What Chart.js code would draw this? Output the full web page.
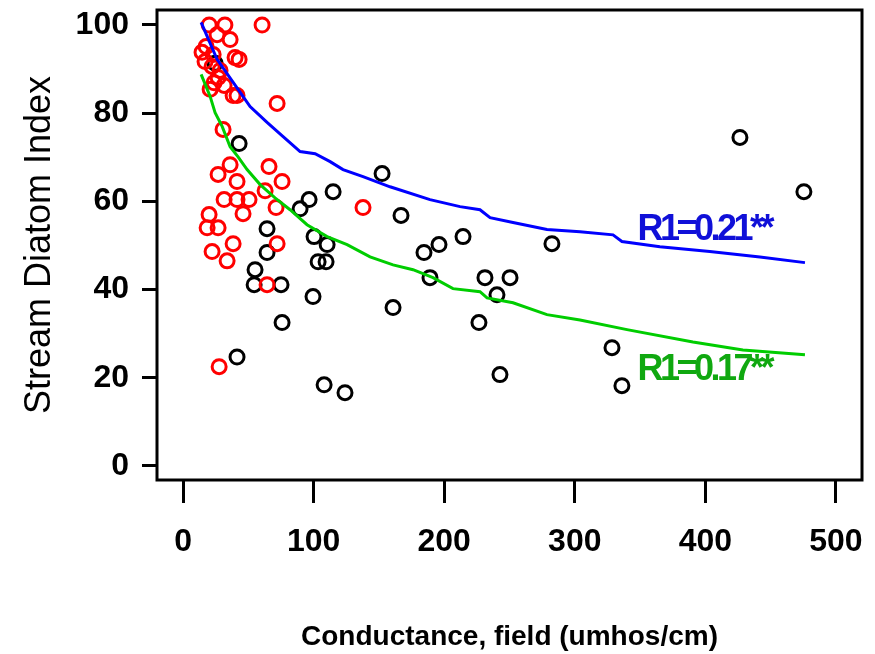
<!DOCTYPE html>
<html><head><meta charset="utf-8">
<script src="https://cdn.jsdelivr.net/npm/chart.js@4.4.1/dist/chart.umd.min.js"></script>
<style>html,body{margin:0;padding:0;background:#fff;}#wrap{width:875px;height:654px;}</style>
</head><body><div id="wrap"><canvas id="c" width="875" height="654"></canvas></div>
<script>
const xTicks = [0, 100, 200, 300, 400, 500];
const yTicks = [0, 20, 40, 60, 80, 100];

const blackX = [24.5, 42.9, 152.4, 114.9, 96.5, 89.6, 166.9, 214.4, 282.5, 196.0, 184.5, 100.3, 110.3, 103.4, 109.5, 189.1, 231.2, 250.4, 240.4, 99.5, 160.8, 226.6, 64.3, 64.3, 55.1, 54.4, 75.0, 75.8, 41.3, 108.0, 124.0, 242.7, 328.5, 336.1, 426.5, 475.5];
const blackY = [91.3, 73.1, 66.3, 62.2, 60.4, 58.3, 56.8, 52.0, 50.4, 50.2, 48.4, 52.0, 50.2, 46.3, 46.3, 42.7, 42.7, 42.7, 38.8, 38.4, 35.9, 32.5, 53.8, 48.4, 44.5, 41.1, 41.1, 32.5, 24.7, 18.4, 16.6, 20.7, 26.8, 18.2, 74.5, 62.2];

const redX = [20, 32, 60.5, 26, 36, 14.5, 39.8, 42.9, 16.8, 22.2, 26.8, 31.4, 20.7, 38.3, 41.3, 72, 30.6, 17.6, 23, 28.3, 23.7,
              36, 26.8, 41.3, 65.8, 75.8, 62.8, 31.4, 41.3, 50.5, 45.9, 71.2, 19.9, 18.4, 26.8, 38.3, 22.2, 33.7, 72, 64.3, 27.6, 137.8];
const redY = [100, 100, 100, 97.8, 96.7, 93.8, 92.6, 92.2, 91.7, 90.6, 88.1, 86.3, 85.4, 84.0, 84.0, 82.2, 76.3, 95.1, 93.3, 89.7, 86.9,
              68.3, 66.1, 64.5, 67.9, 64.5, 62.4, 60.4, 60.4, 60.4, 57.2, 58.6, 57.0, 54.0, 54.0, 50.4, 48.6, 46.5, 50.4, 41.1, 22.5, 58.6];

const blueFitX = [13.8, 26.0, 42.1, 51.3, 64.3, 76.6, 89.6, 101.1, 112.6, 122.5, 137.8, 158.5, 189.1, 212.1, 227.4, 235.1, 252.7, 278.7, 304.0, 329.3, 336.1, 365.2, 403.4, 441.8, 476.3];
const blueFitY = [100.6, 92.2, 85.4, 81.5, 77.9, 74.7, 71.3, 70.8, 69.0, 67.2, 65.6, 63.3, 60.4, 58.8, 58.1, 56.3, 55.2, 53.6, 53.1, 52.4, 50.9, 49.7, 48.6, 47.4, 46.1];

const greenFitX = [13.8, 20.7, 24.5, 29.9, 36.0, 42.1, 49.0, 59.0, 70.4, 81.9, 94.9, 110.3, 125.6, 143.2, 160.8, 176.1, 191.4, 206.7, 227.4, 232.8, 252.7, 278.7, 304.0, 340.0, 390.5, 428.8, 476.3];
const greenFitY = [88.8, 83.8, 80.1, 77.0, 72.4, 70.1, 67.2, 63.8, 60.8, 58.1, 54.7, 52.0, 50.2, 47.4, 45.6, 44.5, 42.7, 40.2, 39.5, 38.1, 37.0, 34.3, 33.1, 30.9, 28.1, 26.3, 25.2];

const fitLabels = ["R1=0.21**", "R1=0.17**"];
const fitLabelX = [348, 348];
const fitLabelY = [51.2, 19.5];

const xTitle = "Conductance, field (umhos/cm)";
const yTitle = "Stream Diatom Index";

const pts = (xs, ys) => xs.map((v, i) => ({x: v, y: ys[i]}));

const FONT = '"Liberation Sans", Arial, sans-serif';

const boxPlugin = {
  id: 'box',
  beforeDatasetsDraw(chart) {
    const {ctx, chartArea: a} = chart;
    ctx.save();
    ctx.strokeStyle = '#000';
    ctx.lineWidth = 3;
    ctx.strokeRect(a.left, a.top, a.right - a.left, a.bottom - a.top);
    ctx.restore();
  }
};

const labelPlugin = {
  id: 'fitLabels',
  afterDatasetsDraw(chart) {
    const {ctx, scales: {x, y}} = chart;
    const colors = ['#1010d8', '#10a810'];
    ctx.save();
    ctx.font = 'bold 36px ' + FONT;
    try { ctx.letterSpacing = '-3.5px'; } catch (e) {}
    ctx.textBaseline = 'alphabetic';
    ctx.textAlign = 'left';
    fitLabels.forEach((t, i) => {
      ctx.fillStyle = colors[i];
      ctx.fillText(t, x.getPixelForValue(fitLabelX[i]), y.getPixelForValue(fitLabelY[i]));
    });
    ctx.restore();
  }
};

new Chart(document.getElementById('c'), {
  type: 'scatter',
  data: {
    datasets: [
      {data: pts(blueFitX, blueFitY), showLine: true, borderColor: '#0000ff', borderWidth: 3, pointRadius: 0, fill: false, tension: 0},
      {data: pts(greenFitX, greenFitY), showLine: true, borderColor: '#00cd00', borderWidth: 3, pointRadius: 0, fill: false, tension: 0},
      {data: pts(redX, redY), showLine: false, pointStyle: 'circle', pointRadius: 7, borderColor: '#ff0000', backgroundColor: 'rgba(0,0,0,0)', pointBorderWidth: 3},
      {data: pts(blackX, blackY), showLine: false, pointStyle: 'circle', pointRadius: 7, borderColor: '#000000', backgroundColor: 'rgba(0,0,0,0)', pointBorderWidth: 3}
    ]
  },
  options: {
    responsive: false,
    animation: false,
    devicePixelRatio: 1,
    layout: {padding: {top: 10, right: 13, left: 0, bottom: 0}},
    plugins: {legend: {display: false}, tooltip: {enabled: false}},
    scales: {
      x: {
        type: 'linear', min: -20, max: 520,
        afterBuildTicks: s => { s.ticks = xTicks.map(v => ({value: v})); },
        afterFit: s => { s.height = 174; s.paddingLeft = 0; s.paddingRight = 0; },
        border: {display: false},
        grid: {drawOnChartArea: false, drawTicks: true, tickLength: 23, tickWidth: 3, tickColor: '#000', color: '#000', lineWidth: 3},
        ticks: {color: '#000', font: {family: FONT, size: 32, weight: 'bold'}, padding: 20, maxRotation: 0, autoSkip: false},
        title: {display: true, text: xTitle, color: '#000', font: {family: FONT, size: 28, weight: 'bold'}, padding: {top: 0, bottom: 0}}
      },
      y: {
        type: 'linear', min: -3.2, max: 103.4,
        afterBuildTicks: s => { s.ticks = yTicks.map(v => ({value: v})); },
        afterFit: s => { s.width = 157; s.paddingTop = 0; s.paddingBottom = 0; },
        border: {display: false},
        grid: {drawOnChartArea: false, drawTicks: true, tickLength: 15, tickWidth: 3, tickColor: '#000', color: '#000', lineWidth: 3},
        ticks: {color: '#000', font: {family: FONT, size: 32, weight: 'bold'}, padding: 13, autoSkip: false},
        title: {display: true, text: yTitle, color: '#000', font: {family: FONT, size: 36, weight: 'normal'}, padding: {top: 18, bottom: 0}}
      }
    }
  },
  plugins: [boxPlugin, labelPlugin]
});
</script>
</body></html>
